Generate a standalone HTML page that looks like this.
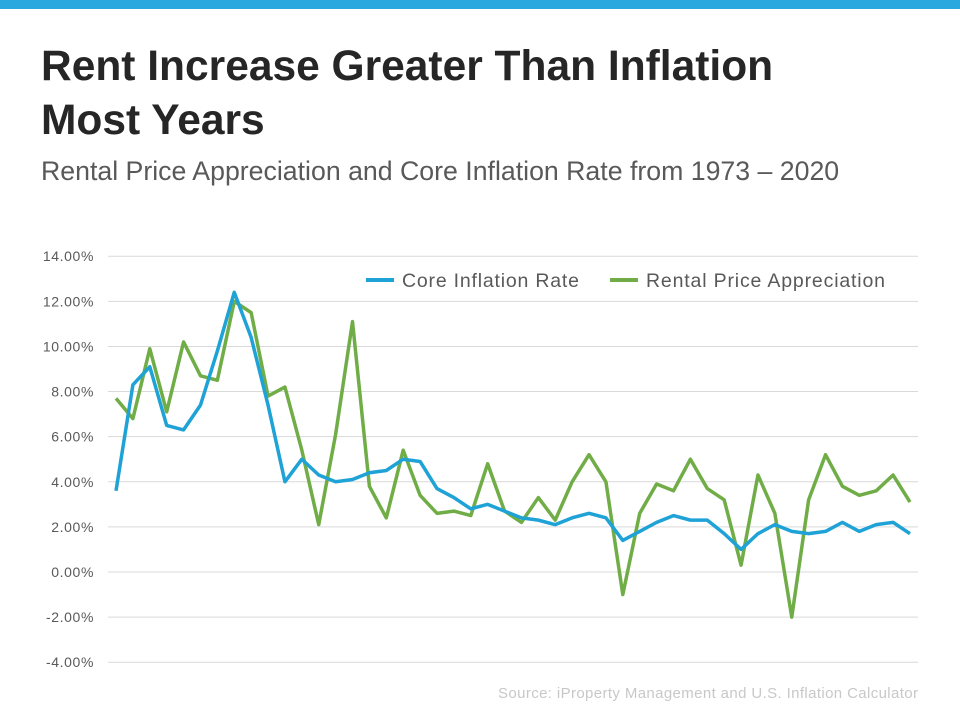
<!DOCTYPE html>
<html><head><meta charset="utf-8"><style>
body{margin:0;width:960px;height:720px;background:#fff;font-family:"Liberation Sans",sans-serif;overflow:hidden;position:relative}
#bar{position:absolute;left:0;top:0;width:960px;height:9px;background:#29a8e0}
h1{position:absolute;left:41px;top:40px;margin:0;font-size:42.5px;line-height:54px;font-weight:bold;color:#262626}
#sub{position:absolute;left:41px;top:156px;font-size:26.7px;color:#595959}
svg{position:absolute;left:0;top:0}
</style></head><body>
<div id="bar"></div>
<h1>Rent Increase Greater Than Inflation<br>Most Years</h1>
<div id="sub">Rental Price Appreciation and Core Inflation Rate from 1973 – 2020</div>
<svg id="chart" width="960" height="720"></svg>
<script>
const years=[];for(let y=1973;y<=2020;y++)years.push(y);
const coreInflation=[3.6,8.3,9.1,6.5,6.3,7.4,9.8,12.4,10.4,7.4,4.0,5.0,4.3,4.0,4.1,4.4,4.5,5.0,4.9,3.7,3.3,2.8,3.0,2.7,2.4,2.3,2.1,2.4,2.6,2.4,1.4,1.8,2.2,2.5,2.3,2.3,1.7,1.0,1.7,2.1,1.8,1.7,1.8,2.2,1.8,2.1,2.2,1.7];
const rentalAppreciation=[7.7,6.8,9.9,7.1,10.2,8.7,8.5,12.0,11.5,7.8,8.2,5.4,2.1,6.1,11.1,3.8,2.4,5.4,3.4,2.6,2.7,2.5,4.8,2.7,2.2,3.3,2.3,4.0,5.2,4.0,-1.0,2.6,3.9,3.6,5.0,3.7,3.2,0.3,4.3,2.6,-2.0,3.2,5.2,3.8,3.4,3.6,4.3,3.1];
const yTicks=[14,12,10,8,6,4,2,0,-2,-4];
const NS="http://www.w3.org/2000/svg";
const svg=document.getElementById('chart');
const x=i=>116+i*(910-116)/(years.length-1);
const y=v=>572-v*(662-256)/18;
function el(t,a){const e=document.createElementNS(NS,t);for(const k in a)e.setAttribute(k,a[k]);svg.appendChild(e);return e;}
yTicks.forEach(t=>{
 const g=el('line',{x1:108,x2:918,y1:y(t),y2:y(t),stroke:'#d9d9d9','stroke-width':1});
 
 
 const l=el('text',{x:94,y:y(t)+5,'text-anchor':'end','font-size':14,'letter-spacing':0.6,fill:'#595959'});
 l.textContent=t.toFixed(2)+'%';
 
 
});
function line(data,color,name){
 const p=el('polyline',{points:data.map((v,i)=>x(i)+','+y(v)).join(' '),fill:'none',stroke:color,'stroke-width':3.5,'stroke-linejoin':'round'});
 
 
}
line(rentalAppreciation,'#70ad47','rental-price-line');
line(coreInflation,'#1fa2d6','core-inflation-line');
const legend=[['Core Inflation Rate','#1fa2d6',366,177],['Rental Price Appreciation','#70ad47',610,239]];
legend.forEach(([n,c,lx,w])=>{
 const s=el('line',{x1:lx,x2:lx+28,y1:280,y2:280,stroke:c,'stroke-width':4});
 
 
 const t=el('text',{x:lx+36,y:287,'font-size':19.5,fill:'#595959',textLength:w,lengthAdjust:'spacing'});
 t.textContent=n;
 
 
});
const src=el('text',{x:498,y:698,'font-size':15,fill:'#c8c8c8',textLength:420,lengthAdjust:'spacing'});
src.textContent='Source: iProperty Management and U.S. Inflation Calculator';


</script>
</body></html>
